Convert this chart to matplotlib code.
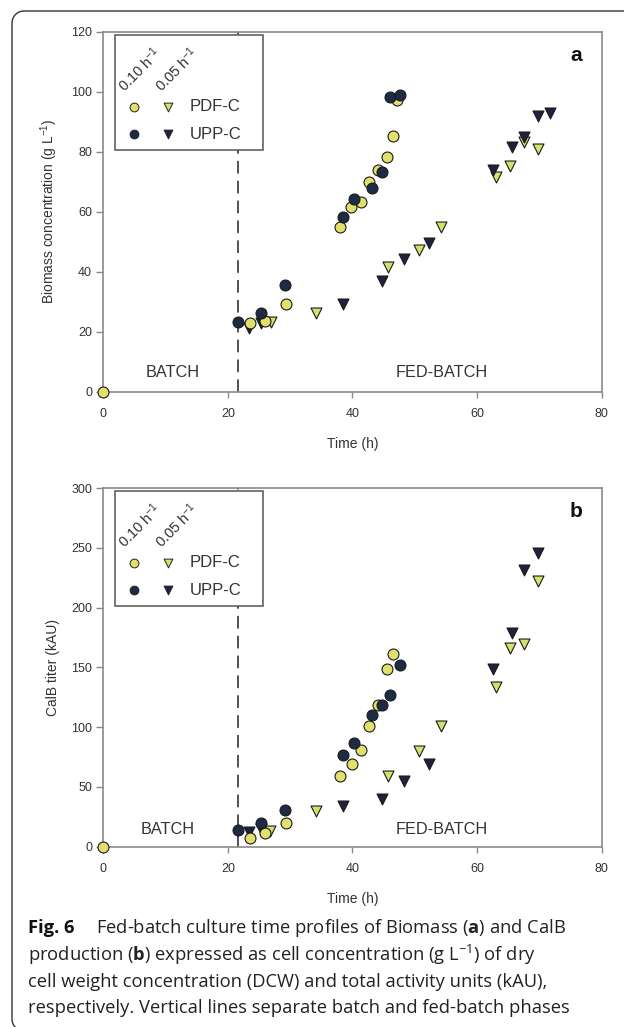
import matplotlib
matplotlib.use("Agg")
from matplotlib import pyplot as plt
from matplotlib.patches import Rectangle
from matplotlib.lines import Line2D
import numpy as np

# ---- data ----
# panel a: biomass (g/L)
a_pdf_010_t = [0, 23.5, 26.0, 29.4, 38.0, 39.7, 41.3, 42.6, 44.1, 45.6, 46.5, 47.1]
a_pdf_010_y = [0, 23.0, 23.5, 29.1, 54.8, 61.7, 63.1, 69.8, 73.9, 78.1, 85.3, 97.2]
a_upp_010_t = [21.7, 25.3, 29.2, 38.5, 40.2, 43.1, 44.7, 46.0, 47.7]
a_upp_010_y = [23.1, 26.1, 35.6, 58.3, 64.4, 68.0, 73.1, 98.3, 98.9]
a_pdf_005_t = [26.9, 34.1, 45.7, 50.6, 54.2, 63.0, 65.2, 67.5, 69.8]
a_pdf_005_y = [23.3, 26.1, 41.7, 47.2, 54.8, 71.7, 75.3, 83.3, 80.9]
a_upp_005_t = [23.4, 25.3, 38.5, 44.7, 48.2, 52.2, 62.6, 65.6, 67.5, 69.8, 71.7]
a_upp_005_y = [21.4, 22.8, 29.1, 36.9, 44.1, 49.7, 73.9, 81.7, 85.0, 92.0, 92.8]

# panel b: CalB titer (kAU)
b_pdf_010_t = [0, 23.5, 25.9, 29.4, 38.0, 39.9, 41.3, 42.6, 44.1, 45.6, 46.5]
b_pdf_010_y = [0, 7.0, 11.7, 20.1, 59.5, 69.0, 81.0, 101.4, 118.7, 148.9, 161.5]
b_upp_010_t = [21.7, 25.3, 29.2, 38.5, 40.2, 43.1, 44.7, 46.0, 47.7]
b_upp_010_y = [14.0, 19.6, 30.7, 76.3, 86.6, 109.8, 118.7, 127.1, 152.2]
b_pdf_005_t = [26.7, 34.1, 45.7, 50.6, 54.2, 63.0, 65.2, 67.5, 69.8]
b_pdf_005_y = [13.1, 30.2, 59.2, 80.2, 101.4, 133.5, 166.2, 169.8, 222.0]
b_upp_005_t = [23.4, 25.3, 38.5, 44.7, 48.2, 52.2, 62.6, 65.6, 67.5, 69.8]
b_upp_005_y = [12.6, 14.5, 34.4, 40.0, 55.0, 69.3, 148.9, 178.8, 231.8, 245.8]

batch_end = 21.7
x_ticks = [0, 20, 40, 60, 80]

yel_c = '#e2df6c'
yel_t = '#d6e06a'
navy_c = '#1d2b45'
navy_t = '#202040'
axcol = '#8a8a8a'
txtcol = '#333333'

plt.rcParams['font.family'] = ['Liberation Sans', 'DejaVu Sans']
plt.rcParams['mathtext.fontset'] = 'custom'
plt.rcParams['mathtext.rm'] = 'Open Sans'
plt.rcParams['mathtext.bf'] = 'Open Sans:bold'
plt.rcParams['mathtext.it'] = 'Open Sans:italic'

W, H = 624, 1027
fig = plt.figure(figsize=(W / 100, H / 100), dpi=100)
ax1 = fig.add_axes([0.1655, 0.6186, 0.7988, 0.3505])
ax2 = fig.add_axes([0.1655, 0.1756, 0.7988, 0.3490])


def style_panel(ax, ylim, yticks, ylabel, letter):
    ax.set_xlim(0, 80)
    ax.set_ylim(*ylim)
    ax.set_xticks(x_ticks)
    ax.set_yticks(yticks)
    for s in ax.spines.values():
        s.set_color(axcol)
        s.set_linewidth(1.2)
    ax.tick_params(direction='out', length=5, width=1, color=axcol,
                   labelsize=9, labelcolor=txtcol)
    ax.tick_params(axis='x', length=4, pad=8)
    ax.tick_params(axis='y', pad=3)
    ax.set_xlabel('Time (h)', fontsize=10, color=txtcol, labelpad=12)
    ax.set_ylabel(ylabel, fontsize=10, color=txtcol, labelpad=8)
    ax.axvline(batch_end, color='#444444', lw=1.3, ls=(0, (7, 4)), zorder=1)
    ax.text(0.948, 0.935, letter, transform=ax.transAxes, fontsize=15,
            fontweight='bold', ha='center', va='center', color='#111111')

    # legend box drawn by hand (rotated column headers)
    ax.add_patch(Rectangle((0.0235, 0.671), 0.2975, 0.32, transform=ax.transAxes,
                           facecolor='white', edgecolor='#555555', lw=1.1, zorder=5))
    for xh, lab in [(0.048, '0.10 h'), (0.122, '0.05 h')]:
        ax.text(xh, 0.824, lab + r'$^{\mathregular{-1}}$', transform=ax.transAxes,
                rotation=45, rotation_mode='anchor', ha='left', va='bottom',
                fontsize=10.5, color=txtcol, zorder=6)
    ax.scatter([0.0622], [0.7917], s=40, marker='o', c=yel_c, edgecolors='#222222',
               linewidths=0.7, transform=ax.transAxes, zorder=6)
    ax.scatter([0.1304], [0.7917], s=40, marker='v', c=yel_t, edgecolors='#222222',
               linewidths=0.7, transform=ax.transAxes, zorder=6)
    ax.scatter([0.0622], [0.715], s=40, marker='o', c=navy_c, edgecolors='#222222',
               linewidths=0.7, transform=ax.transAxes, zorder=6)
    ax.scatter([0.1304], [0.715], s=40, marker='v', c=navy_t, edgecolors='#222222',
               linewidths=0.7, transform=ax.transAxes, zorder=6)
    ax.text(0.1725, 0.7917, 'PDF-C', transform=ax.transAxes, fontsize=12,
            va='center', ha='left', color=txtcol, zorder=6)
    ax.text(0.1725, 0.715, 'UPP-C', transform=ax.transAxes, fontsize=12,
            va='center', ha='left', color=txtcol, zorder=6)


def draw_points(ax, sets):
    for t, y, mk, col in sets:
        ax.scatter(t, y, s=62, marker=mk, c=col, edgecolors='#1a1a1a',
                   linewidths=0.8, zorder=3, clip_on=False)


draw_points(ax1, [(a_pdf_005_t, a_pdf_005_y, 'v', yel_t),
                  (a_upp_005_t, a_upp_005_y, 'v', navy_t),
                  (a_pdf_010_t, a_pdf_010_y, 'o', yel_c),
                  (a_upp_010_t, a_upp_010_y, 'o', navy_c)])
draw_points(ax2, [(b_pdf_005_t, b_pdf_005_y, 'v', yel_t),
                  (b_upp_005_t, b_upp_005_y, 'v', navy_t),
                  (b_pdf_010_t, b_pdf_010_y, 'o', yel_c),
                  (b_upp_010_t, b_upp_010_y, 'o', navy_c)])

style_panel(ax1, (0, 120), np.arange(0, 121, 20),
            r'Biomass concentration (g L$^{\mathregular{-1}}$)', 'a')
style_panel(ax2, (0, 300), np.arange(0, 301, 50), 'CalB titer (kAU)', 'b')

ax1.text(11.2, 6.3, 'BATCH', fontsize=11.7, ha='center', va='center', color=txtcol)
ax1.text(54.3, 6.3, 'FED-BATCH', fontsize=11.7, ha='center', va='center', color=txtcol)
ax2.text(10.4, 14, 'BATCH', fontsize=11.7, ha='center', va='center', color=txtcol)
ax2.text(54.3, 14, 'FED-BATCH', fontsize=11.7, ha='center', va='center', color=txtcol)

# caption frame: top and left edges with rounded corners, open to the right
r = 12
x0, y0, y1 = 12, 11, 1031
th = np.linspace(np.pi / 2, np.pi, 20)
top_arc_x = x0 + r + r * np.cos(th)
top_arc_y = y0 + r - r * np.sin(th)
th2 = np.linspace(np.pi, 1.5 * np.pi, 20)
bot_arc_x = x0 + r + r * np.cos(th2)
bot_arc_y = y1 - r - r * np.sin(th2)
px = np.concatenate([[W + 10], top_arc_x, bot_arc_x, [W + 10]])
py = np.concatenate([[y0], top_arc_y, bot_arc_y, [y1]])
fig.add_artist(Line2D(px / W, 1 - py / H, transform=fig.transFigure,
                      color='#333333', lw=1.0))

cfont = ['Open Sans', 'DejaVu Sans']
cs = 13.2
fig.text(28 / W, 1 - 928 / H, 'Fig. 6', fontsize=cs, family=cfont,
         fontweight='bold', va='center', ha='left', color='#111111')
fig.text(96 / W, 1 - 928 / H,
         r'Fed-batch culture time profiles of Biomass ($\mathbf{a}$) and CalB',
         fontsize=cs, family=cfont, va='center', ha='left', color='#222222')
cap = [r'production ($\mathbf{b}$) expressed as cell concentration (g L$^{-1}$) of dry',
       'cell weight concentration (DCW) and total activity units (kAU),',
       'respectively. Vertical lines separate batch and fed-batch phases']
for i, line in enumerate(cap):
    fig.text(28 / W, 1 - (955 + 26.7 * i) / H, line, fontsize=cs, family=cfont,
             va='center', ha='left', color='#222222')

fig.savefig('out.png', dpi=100)
